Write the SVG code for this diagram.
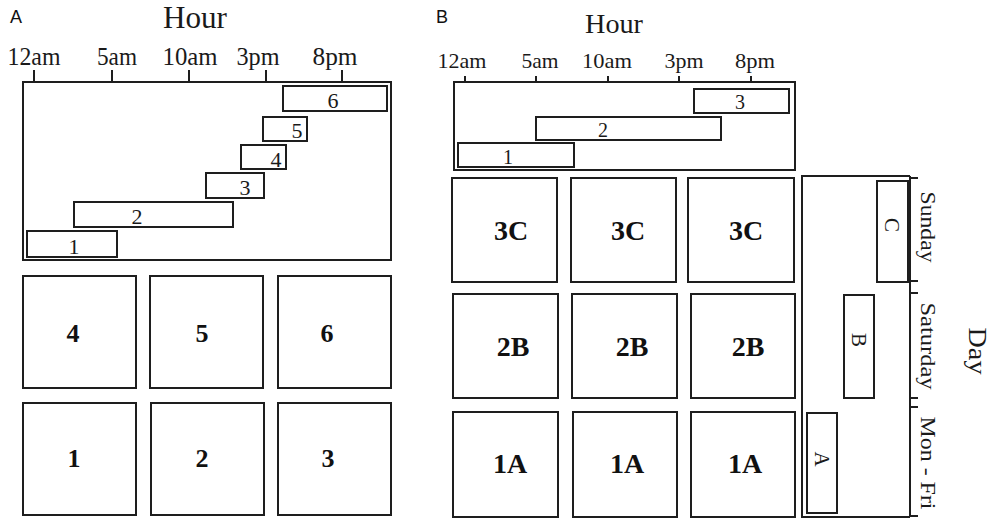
<svg xmlns="http://www.w3.org/2000/svg" width="995" height="521" viewBox="0 0 995 521">
<style>
.bg{fill:#ffffff}
.box{fill:#ffffff;stroke:#1e1e1e;stroke-width:2}
.ax{fill:none;stroke:#1e1e1e;stroke-width:2}
.t{font-family:"Liberation Serif","Times New Roman",serif;fill:#1a1a1a}
.tb{font-family:"Liberation Serif","Times New Roman",serif;font-weight:bold;fill:#111111;text-anchor:middle}
.pl{font-family:"Liberation Sans",Arial,sans-serif;font-size:18px;fill:#111111}
.tick{font-family:"Liberation Serif","Times New Roman",serif;fill:#1a1a1a;text-anchor:middle}
.bar{font-family:"Liberation Serif","Times New Roman",serif;fill:#1a1a1a;text-anchor:middle}
</style>
<rect class="bg" x="0" y="0" width="995" height="521"/>

<!-- Panel A -->
<g id="panelA-title">
<text class="pl" x="10" y="23">A</text>
<text class="t" x="195" y="28" font-size="31" text-anchor="middle" textLength="64" lengthAdjust="spacingAndGlyphs">Hour</text>
</g>
<g id="panelA-axis">
<rect class="ax" x="23" y="82" width="368" height="178"/>
<path class="ax" d="M34 70V82M112 70V82M189 70V82M266 70V82M342 70V82"/>
<text class="tick" font-size="25" x="34" y="65" textLength="53" lengthAdjust="spacingAndGlyphs">12am</text>
<text class="tick" font-size="25" x="117" y="65" textLength="40" lengthAdjust="spacingAndGlyphs">5am</text>
<text class="tick" font-size="25" x="190" y="65" textLength="55" lengthAdjust="spacingAndGlyphs">10am</text>
<text class="tick" font-size="25" x="258" y="65" textLength="43" lengthAdjust="spacingAndGlyphs">3pm</text>
<text class="tick" font-size="25" x="335" y="65" textLength="45" lengthAdjust="spacingAndGlyphs">8pm</text>
</g>
<g id="A-bar6"><rect class="box" x="283" y="86" width="104" height="25"/><text class="bar" font-size="22" x="333" y="108">6</text></g>
<g id="A-bar5"><rect class="box" x="263" y="117" width="44" height="24"/><text class="bar" font-size="22" x="297" y="138">5</text></g>
<g id="A-bar4"><rect class="box" x="241" y="145" width="45" height="24"/><text class="bar" font-size="22" x="276" y="167">4</text></g>
<g id="A-bar3"><rect class="box" x="206" y="173" width="58" height="25"/><text class="bar" font-size="22" x="245" y="195">3</text></g>
<g id="A-bar2"><rect class="box" x="74" y="202" width="159" height="25"/><text class="bar" font-size="22" x="137" y="224">2</text></g>
<g id="A-bar1"><rect class="box" x="27" y="231" width="90" height="26"/><text class="bar" font-size="22" x="74" y="254">1</text></g>

<g id="A-box4"><rect class="box" x="23" y="276" width="113" height="112"/><text class="tb" font-size="26" x="73" y="342">4</text></g>
<g id="A-box5"><rect class="box" x="150" y="276" width="113" height="112"/><text class="tb" font-size="26" x="202" y="342">5</text></g>
<g id="A-box6"><rect class="box" x="278" y="276" width="113" height="112"/><text class="tb" font-size="26" x="327" y="342">6</text></g>
<g id="A-box1"><rect class="box" x="23" y="403" width="113" height="112"/><text class="tb" font-size="26" x="74" y="467">1</text></g>
<g id="A-box2"><rect class="box" x="151" y="403" width="113" height="112"/><text class="tb" font-size="26" x="202" y="467">2</text></g>
<g id="A-box3"><rect class="box" x="278" y="403" width="113" height="112"/><text class="tb" font-size="26" x="328" y="467">3</text></g>

<!-- Panel B -->
<g id="panelB-title">
<text class="pl" x="436" y="23">B</text>
<text class="t" x="614" y="33" font-size="27" text-anchor="middle" textLength="58" lengthAdjust="spacingAndGlyphs">Hour</text>
</g>
<g id="panelB-axis">
<rect class="ax" x="454" y="82" width="341" height="88"/>
<path class="ax" d="M465 76V82M536 76V82M608 76V82M679 76V82M751 76V82"/>
<text class="tick" font-size="22" x="462" y="68" textLength="49" lengthAdjust="spacingAndGlyphs">12am</text>
<text class="tick" font-size="22" x="540" y="68" textLength="37" lengthAdjust="spacingAndGlyphs">5am</text>
<text class="tick" font-size="22" x="607" y="68" textLength="50" lengthAdjust="spacingAndGlyphs">10am</text>
<text class="tick" font-size="22" x="684" y="68" textLength="39" lengthAdjust="spacingAndGlyphs">3pm</text>
<text class="tick" font-size="22" x="755" y="68" textLength="40" lengthAdjust="spacingAndGlyphs">8pm</text>
</g>
<g id="B-bar3"><rect class="box" x="694" y="89" width="95" height="24"/><text class="bar" font-size="20" x="740" y="109">3</text></g>
<g id="B-bar2"><rect class="box" x="536" y="117" width="185" height="23"/><text class="bar" font-size="20" x="603" y="137">2</text></g>
<g id="B-bar1"><rect class="box" x="458" y="143" width="116" height="24"/><text class="bar" font-size="20" x="508" y="164">1</text></g>

<g id="B-box3C-1"><rect class="box" x="452" y="178" width="105" height="104"/><text class="tb" font-size="28" x="511" y="240">3C</text></g>
<g id="B-box3C-2"><rect class="box" x="571" y="178" width="105" height="104"/><text class="tb" font-size="28" x="628" y="240">3C</text></g>
<g id="B-box3C-3"><rect class="box" x="688" y="178" width="106" height="104"/><text class="tb" font-size="28" x="746" y="240">3C</text></g>
<g id="B-box2B-1"><rect class="box" x="453" y="294" width="105" height="104"/><text class="tb" font-size="28" x="513" y="356">2B</text></g>
<g id="B-box2B-2"><rect class="box" x="572" y="294" width="105" height="104"/><text class="tb" font-size="28" x="632" y="356">2B</text></g>
<g id="B-box2B-3"><rect class="box" x="691" y="294" width="104" height="104"/><text class="tb" font-size="28" x="748" y="356">2B</text></g>
<g id="B-box1A-1"><rect class="box" x="453" y="412" width="105" height="105"/><text class="tb" font-size="28" x="510" y="473">1A</text></g>
<g id="B-box1A-2"><rect class="box" x="573" y="412" width="104" height="105"/><text class="tb" font-size="28" x="627" y="473">1A</text></g>
<g id="B-box1A-3"><rect class="box" x="691" y="412" width="104" height="105"/><text class="tb" font-size="28" x="745" y="473">1A</text></g>

<g id="day-axis">
<path class="ax" d="M910 176H802V517H910M910 176V517M910 178H918M910 281H918M910 293H918M910 398H918M910 407H918M910 516H918"/>
<text class="t" font-size="20" text-anchor="middle" transform="translate(921,227) rotate(90)" textLength="71" lengthAdjust="spacingAndGlyphs">Sunday</text>
<text class="t" font-size="20" text-anchor="middle" transform="translate(921,346) rotate(90)" textLength="87" lengthAdjust="spacingAndGlyphs">Saturday</text>
<text class="t" font-size="20" text-anchor="middle" transform="translate(921,463) rotate(90)" textLength="93" lengthAdjust="spacingAndGlyphs">Mon - Fri</text>
<text class="t" font-size="25" text-anchor="middle" transform="translate(969,351) rotate(90)" textLength="47" lengthAdjust="spacingAndGlyphs">Day</text>
</g>
<g id="day-barC"><rect class="box" x="877" y="181" width="31" height="101"/><text class="bar" font-size="21" transform="translate(885,225) rotate(90)">C</text></g>
<g id="day-barB"><rect class="box" x="844" y="295" width="30" height="103"/><text class="bar" font-size="21" transform="translate(852,340) rotate(90)">B</text></g>
<g id="day-barA"><rect class="box" x="807" y="413" width="30" height="100"/><text class="bar" font-size="21" transform="translate(815,459) rotate(90)">A</text></g>
</svg>
